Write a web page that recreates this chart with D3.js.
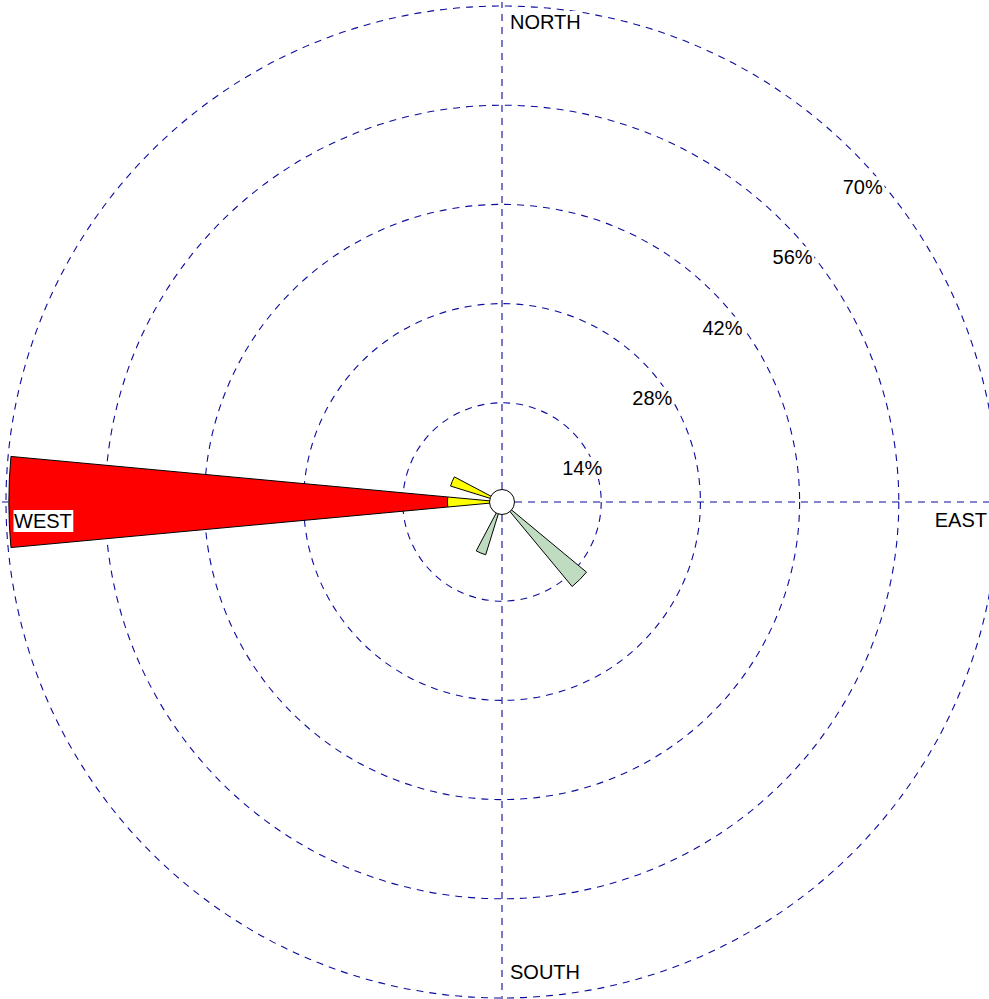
<!DOCTYPE html>
<html>
<head>
<meta charset="utf-8">
<script src="https://cdn.jsdelivr.net/npm/d3@7/dist/d3.min.js"></script>
<style>
  html, body { margin: 0; padding: 0; background: #fff; }
  svg { display: block; }
  text { font-family: "Liberation Sans", Arial, sans-serif; font-size: 20px; fill: #000; }
</style>
</head>
<body>
<svg id="chart" width="989" height="999"></svg>
<script>
// ---- data ----
const directions = ["N","NNE","NE","ENE","E","ESE","SE","SSE","S","SSW","SW","WSW","W","WNW","NW","NNW"];
const greenValues  = [0,0,0,0,0,0,15.5,0,0,7.8,0,0,0,0,0,0];
const yellowValues = [0,0,0,0,0,0,0,0,0,0,0,0,7.7,7.6,0,0];
const redValues    = [0,0,0,0,0,0,0,0,0,0,0,0,61.9,0,0,0];
const ringValues = [14, 28, 42, 56, 70];
const ringLabels = ["14%", "28%", "42%", "56%", "70%"];
const compassLabels = ["NORTH", "EAST", "SOUTH", "WEST"];

// ---- layout ----
const W = 989, H = 999;
const cx = 502, cy = 502;
const svg = d3.select("#chart");
const g = svg.append("g").attr("transform", `translate(${cx},${cy})`);

const r = d3.scaleLinear().domain([0, 70]).range([0, 496]);
const ang = d3.scaleLinear().domain([0, directions.length]).range([0, 2 * Math.PI]);
const halfW = 5.3 * Math.PI / 180;
const gridColor = "#0c0c9c";

// rings
g.selectAll("circle.ring").data(ringValues).enter().append("circle")
  .attr("class", "ring")
  .attr("r", d => r(d))
  .attr("fill", "none")
  .attr("stroke", gridColor)
  .attr("stroke-width", 1.1)
  .attr("stroke-dasharray", "7,6");

// spokes (N, E, S, W)
const spokeLen = 500;
[0, 90, 180, 270].forEach(deg => {
  const a = deg * Math.PI / 180;
  g.append("line")
    .attr("x1", 0).attr("y1", 0)
    .attr("x2", spokeLen * Math.sin(a)).attr("y2", -spokeLen * Math.cos(a))
    .attr("stroke", gridColor)
    .attr("stroke-width", 1.1)
    .attr("stroke-dasharray", "7,6");
});

// stacked bars
const table = directions.map((d, i) => ({dir: d, green: greenValues[i], yellow: yellowValues[i], red: redValues[i]}));
const keys = ["green", "yellow", "red"];
const colors = {green: "#c0dcc0", yellow: "#ffff00", red: "#ff0000"};
const stack = d3.stack().keys(keys)(table);

const arc = d3.arc()
  .innerRadius(d => r(d[0]))
  .outerRadius(d => r(d[1]))
  .startAngle(d => ang(directions.indexOf(d.data.dir)) - halfW)
  .endAngle(d => ang(directions.indexOf(d.data.dir)) + halfW);

stack.forEach(layer => {
  g.selectAll(null)
    .data(layer.filter(d => d[1] - d[0] > 0))
    .enter().append("path")
    .attr("d", arc)
    .attr("fill", colors[layer.key])
    .attr("stroke", "#000")
    .attr("stroke-width", 1)
    .attr("stroke-linejoin", "miter");
});

// center circle
g.append("circle").attr("r", 12.5).attr("fill", "#fff").attr("stroke", "#000").attr("stroke-width", 1);

// labels with white background
function label(x, y, txt, anchor) {
  const t = g.append("text").attr("x", x).attr("y", y).attr("text-anchor", anchor || "start").text(txt);
  const b = t.node().getBBox();
  g.insert("rect", () => t.node())
    .attr("x", b.x - 0.5).attr("y", b.y)
    .attr("width", b.width + 2).attr("height", b.height)
    .attr("fill", "#fff");
  return t;
}

ringValues.forEach((v, i) => {
  const rr = r(v);
  label(rr * Math.SQRT1_2 - 10, -rr * Math.SQRT1_2 + 43, ringLabels[i]);
});

label(8, -473, compassLabels[0], "start");
label(485, 25, compassLabels[1], "end");
label(8, 477, compassLabels[2], "start");
label(-488, 26, compassLabels[3], "start");
</script>
</body>
</html>
